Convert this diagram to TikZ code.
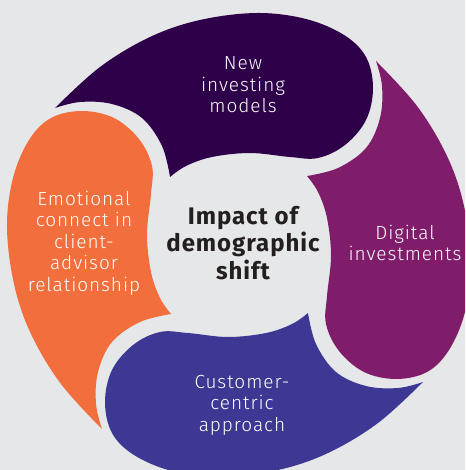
\documentclass[tikz,border=0pt]{standalone}
\usepackage{fontspec}
\setmainfont{Fira Sans}[LetterSpace=4]
\newfontfamily\lightfont{Fira Sans Light}[LetterSpace=5]
\definecolor{bgc}{HTML}{E6E7E8}
\definecolor{cpurple}{HTML}{2E0049}
\definecolor{cmagenta}{HTML}{7F1D6B}
\definecolor{cblue}{HTML}{3D3894}
\definecolor{corange}{HTML}{F26E3C}
\definecolor{ctext}{HTML}{231F20}
\newcommand\petalshape[2]{%
  \fill[#1, rotate around={#2:(239,245)}]
    plot[smooth,tension=0.6] coordinates {(55,108) (100,67) (150,37) (200,20) (257,13) (306,19) (344,35) (366,57) (373,88) (366,120) (345,145) (318,158) (290,157) (250,153) (212,157) (186,166) (170,177)}
    -- plot[smooth,tension=0.6] coordinates {(170,177) (162,146) (142,118) (112,104) (80,102) (55,108)}
    -- cycle;}
\tikzset{
  lbl/.style={text=white, align=center, font=\lightfont\fontsize{19}{21.5}\selectfont, inner sep=0pt},
  ctr/.style={text=ctext, align=center, font=\bfseries\fontsize{24}{27.5}\selectfont, inner sep=0pt}
}
\begin{document}
\begin{tikzpicture}[x=1pt,y=-1pt]
\fill[bgc] (0,0) rectangle (465,470);
\useasboundingbox (0,0) rectangle (465,470);
\clip (0,0) rectangle (465,470);
\petalshape{cpurple}{0}
\petalshape{cmagenta}{-90}
\petalshape{cblue}{180}
\petalshape{corange}{90}
\node[lbl] (newinv) at (243,85) {New\\investing\\models};
\node[lbl] (digital) at (405,243) {Digital\\investments};
\node[lbl] (custom) at (242,405) {Customer-\\centric\\approach};
\node[lbl] (emot) at (84,243) {Emotional\\connect in\\client-\\advisor\\relationship};
\node[ctr] (center) at (243,243) {Impact of\\demographic\\shift};
\end{tikzpicture}
\end{document}
